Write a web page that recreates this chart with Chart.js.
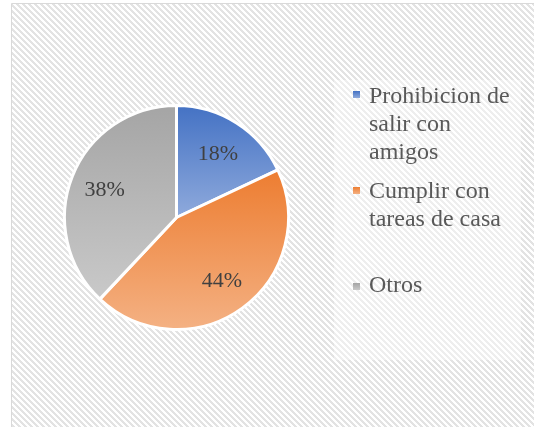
<!DOCTYPE html>
<html><head><meta charset="utf-8">
<script src="https://cdn.jsdelivr.net/npm/chart.js@4"></script>
<style>
html,body{margin:0;padding:0;background:#fff;}
#wrap{position:relative;width:534px;height:427px;overflow:hidden;}
#legend{position:absolute;left:0;top:0;width:534px;height:427px;font-family:"Liberation Serif","Times New Roman",serif;font-size:24px;color:#595959;line-height:28px;}
.item{position:absolute;left:369px;width:152px;}
.mk{position:absolute;left:353px;width:7px;height:7px;}
</style></head><body>
<div id="wrap"><canvas id="c" width="534" height="427"></canvas><div id="legend"></div></div>
<script>
const categories = ['Prohibicion de salir con amigos', 'Cumplir con tareas de casa', 'Otros'];
const values = [18, 44, 38];
const topColors = ['#4472C4', '#ED7D31', '#A5A5A5'];
const bottomColors = ['#8FAADC', '#F4B183', '#C9C9C9'];

const total = values.reduce((s, v) => s + v, 0);
const BORDER = 3;

function sliceGradient(ctx) {
  const chart = ctx.chart, a = chart.chartArea, i = ctx.dataIndex;
  if (!a) return topColors[i];
  const cx = (a.left + a.right) / 2, cy = (a.top + a.bottom) / 2;
  const r = (Math.min(a.right - a.left, a.bottom - a.top) - BORDER) / 2;
  let cum = 0; for (let k = 0; k < i; k++) cum += values[k];
  const s = -Math.PI / 2 + cum / total * 2 * Math.PI;
  const e = s + values[i] / total * 2 * Math.PI;
  const ys = [cy, cy + r * Math.sin(s), cy + r * Math.sin(e)];
  for (const t of [-Math.PI / 2, Math.PI / 2, 3 * Math.PI / 2]) if (t >= s && t <= e) ys.push(cy + r * Math.sin(t));
  const g = chart.ctx.createLinearGradient(0, Math.min(...ys), 0, Math.max(...ys));
  g.addColorStop(0, topColors[i]); g.addColorStop(1, bottomColors[i]);
  return g;
}

const bgPlugin = {
  id: 'bg',
  beforeDraw(chart) {
    const c = chart.ctx;
    const pc = document.createElement('canvas'); pc.width = 6; pc.height = 6;
    const p = pc.getContext('2d');
    p.fillStyle = '#fff'; p.fillRect(0, 0, 6, 6);
    p.fillStyle = '#e3e3e3';
    for (let y = 0; y < 6; y++) for (let k = 0; k < 3; k++) p.fillRect((y + k) % 6, y, 1, 1);
    c.save();
    c.fillStyle = '#fff'; c.fillRect(0, 0, chart.width, chart.height);
    c.fillStyle = c.createPattern(pc, 'repeat');
    c.fillRect(12, 4, chart.width, chart.height);
    c.strokeStyle = '#d9d9d9'; c.lineWidth = 1;
    c.beginPath(); c.moveTo(11.5, chart.height); c.lineTo(11.5, 3.5); c.lineTo(chart.width, 3.5); c.stroke();
    c.fillStyle = 'rgba(255,255,255,0.4)';
    c.fillRect(334, 80, 187, 280);
    c.restore();
  }
};

const labelPlugin = {
  id: 'pct',
  afterDatasetsDraw(chart) {
    const c = chart.ctx, meta = chart.getDatasetMeta(0);
    c.save();
    c.font = '22px "Liberation Serif", "Times New Roman", serif';
    c.fillStyle = '#404040'; c.textAlign = 'center'; c.textBaseline = 'alphabetic';
    meta.data.forEach((arc, i) => {
      const pr = arc.getProps(['x', 'y', 'startAngle', 'endAngle', 'outerRadius'], true);
      const mid = (pr.startAngle + pr.endAngle) / 2, d = 0.69 * pr.outerRadius;
      const x = pr.x + d * Math.cos(mid), y = pr.y + d * Math.sin(mid);
      c.fillText(Math.round(values[i] / total * 100) + '%', x, y + 0.33 * 22);
    });
    c.restore();
  }
};

new Chart(document.getElementById('c'), {
  type: 'pie',
  data: { labels: categories, datasets: [{ data: values, backgroundColor: sliceGradient, borderColor: '#ffffff', borderWidth: BORDER }] },
  options: {
    responsive: false, animation: false,
    layout: { padding: { left: 63, right: 244, top: 104, bottom: 96 } },
    plugins: { legend: { display: false }, tooltip: { enabled: false } }
  },
  plugins: [bgPlugin, labelPlugin]
});

// HTML legend
const legendTops = [81, 176, 270];
const markerTops = [91, 187, 283];
const lg = document.getElementById('legend');
categories.forEach((name, i) => {
  const m = document.createElement('div');
  m.className = 'mk'; m.style.top = markerTops[i] + 'px';
  m.style.background = 'linear-gradient(' + topColors[i] + ',' + bottomColors[i] + ')';
  lg.appendChild(m);
  const t = document.createElement('div');
  t.className = 'item'; t.style.top = legendTops[i] + 'px'; t.textContent = name;
  lg.appendChild(t);
});
</script>
</body></html>
